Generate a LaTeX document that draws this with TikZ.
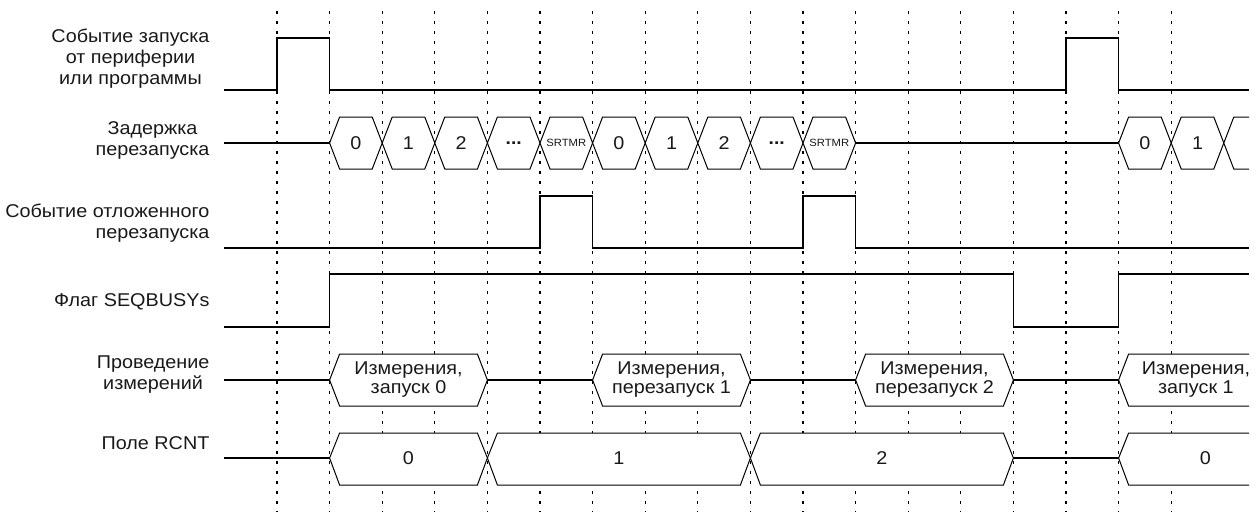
\documentclass[tikz,border=0pt]{standalone}
\usepackage{fontspec}
\setmainfont{Liberation Sans}[FakeStretch=1.07]
\newcommand{\srtmr}{{\fontsize{10.5}{12}\selectfont SRTMR}}
\newcommand{\skipdots}{{\fontsize{18}{18}\selectfont\bfseries ...}}
\begin{document}
\begin{tikzpicture}[x=52.6pt,y=-1pt,
  tick/.style={line width=1.2pt,dash pattern=on 2.5pt off 7.5pt},
  sig/.style={line width=1.3pt},
  busval/.style={draw,line width=1pt,fill=white},
  lbl/.style={anchor=east,align=center,text=black!90,font=\fontsize{18.5}{21}\selectfont},
  val/.style={align=center,text=black!90,font=\fontsize{18.5}{19}\selectfont}]
  \useasboundingbox (-5.266,0) rectangle (18.669,515);
  % time grid
  \foreach \i in {0,...,17}
    \draw[tick] (\i,11) -- (\i,512);
  % signal names
  \node[lbl] (trig) at (-1.217,59) {Событие запуска\\от периферии\\или программы};
  \node[lbl] (dly) at (-1.217,140) {Задержка\\перезапуска};
  \node[lbl,align=right] (defer) at (-1.217,223) {Событие отложенного\\перезапуска};
  \node[lbl] (busy) at (-1.217,302) {Флаг SEQBUSYs};
  \node[lbl] (meas) at (-1.217,375) {Проведение\\измерений};
  \node[lbl] (rcnt) at (-1.217,443) {Поле RCNT};
  % start event
  \draw[sig] (-1,90) -- (0,90) -- (0,38) -- (1,38) -- (1,90) -- (15,90) -- (15,38) -- (16,38) -- (16,90) -- (18.48,90);
  % restart delay
  \draw[sig] (-1,143) -- (1,143) (11,143) -- (16,143);
  \foreach \a/\t in {1/0,2/1,3/2,4/\skipdots,5/\srtmr,6/0,7/1,8/2,9/\skipdots,10/\srtmr,16/0,17/1} {
    \draw[busval] (\a,143) -- ([xshift=10pt]\a,117) -- ([xshift=-10pt]\a+1,117) -- (\a+1,143)
      -- ([xshift=-10pt]\a+1,169) -- ([xshift=10pt]\a,169) -- cycle;
    \node[val] (d\a) at (\a+0.5,143) {\t};
  }
  \draw[busval] (18.48,117) -- ([xshift=10pt]18,117) -- (18,143) -- ([xshift=10pt]18,169) -- (18.48,169);
  % deferred restart event
  \draw[sig] (-1,248) -- (5,248) -- (5,196) -- (6,196) -- (6,248) -- (10,248) -- (10,196) -- (11,196) -- (11,248) -- (18.48,248);
  % SEQBUSYs flag
  \draw[sig] (-1,327) -- (1,327) -- (1,274) -- (14,274) -- (14,327) -- (16,327) -- (16,274) -- (18.48,274);
  % measurements
  \draw[sig] (-1,380) -- (1,380) (4,380) -- (6,380) (9,380) -- (11,380) (14,380) -- (16,380);
  \foreach \a/\b/\t in {1/4/{Измерения,\\запуск 0},6/9/{Измерения,\\перезапуск 1},11/14/{Измерения,\\перезапуск 2}} {
    \draw[busval] (\a,380) -- ([xshift=10pt]\a,354) -- ([xshift=-10pt]\b,354) -- (\b,380)
      -- ([xshift=-10pt]\b,406) -- ([xshift=10pt]\a,406) -- cycle;
    \node[val] (m\a) at ({(\a+\b)/2},380) {\t};
  }
  \draw[busval] (18.48,354) -- ([xshift=10pt]16,354) -- (16,380) -- ([xshift=10pt]16,406) -- (18.48,406);
  \node[val] (m16) at (17.47,380) {Измерения,\\запуск 1};
  % RCNT field
  \draw[sig] (-1,458) -- (1,458) (14,458) -- (16,458);
  \foreach \a/\b/\t in {1/4/0,4/9/1,9/14/2} {
    \draw[busval] (\a,458) -- ([xshift=10pt]\a,433) -- ([xshift=-10pt]\b,433) -- (\b,458)
      -- ([xshift=-10pt]\b,485) -- ([xshift=10pt]\a,485) -- cycle;
    \node[val] (r\a) at ({(\a+\b)/2},458) {\t};
  }
  \draw[busval] (18.48,433) -- ([xshift=10pt]16,433) -- (16,458) -- ([xshift=10pt]16,485) -- (18.48,485);
  \node[val] (r16) at (17.65,458) {0};
\end{tikzpicture}
\end{document}
